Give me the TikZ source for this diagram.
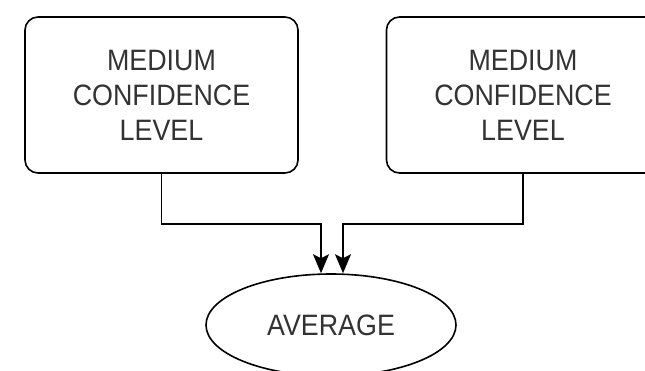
\documentclass[tikz,border=0pt]{standalone}
\usepackage{fontspec}
\setmainfont{Liberation Sans}
\newfontfamily\lblfont[FakeStretch=0.91]{Liberation Sans}
\usepackage{tikz}
\usepackage{xcolor}
\usetikzlibrary{shapes.geometric, arrows.meta}

\definecolor{txtgray}{HTML}{333333}

\tikzset{
  confbox/.style={draw, line width=1.6pt, rounded corners=13pt,
    minimum width=273pt, minimum height=156pt, inner sep=0pt,
    align=center, text=txtgray,
    font=\lblfont\fontsize{29.5}{35}\selectfont},
  avgshape/.style={draw, ellipse, line width=1.6pt,
    minimum width=250pt, minimum height=102pt, inner sep=0pt,
    text=txtgray, font=\lblfont\fontsize{29.5}{35}\selectfont},
  flow/.style={line width=1.6pt,
    -{Stealth[length=19pt, width=16pt, inset=4pt]}}
}

\begin{document}
\begin{tikzpicture}[x=1pt, y=1pt]
  \useasboundingbox (0,0) rectangle (645,-370);
  \clip (0,0) rectangle (645,-370);
  % Zwei Eingaben oben, Mittelwert unten
  \node[confbox] (leftconf) at (161.5,-95) {MEDIUM\\CONFIDENCE\\LEVEL};
  \node[confbox] (rightconf) at (523,-95) {MEDIUM\\CONFIDENCE\\LEVEL};
  \node[avgshape] (avg) at (331,-325) {AVERAGE};
  % Andockpunkte oben an der Ellipse
  \coordinate (avgin1) at ([xshift=-10pt]avg.north);
  \coordinate (avgin2) at ([xshift=12pt]avg.north);
  \draw[flow] (leftconf.south) -- ++(0,-50) -| (avgin1);
  \draw[flow] (rightconf.south) -- ++(0,-50) -| (avgin2);
\end{tikzpicture}
\end{document}
